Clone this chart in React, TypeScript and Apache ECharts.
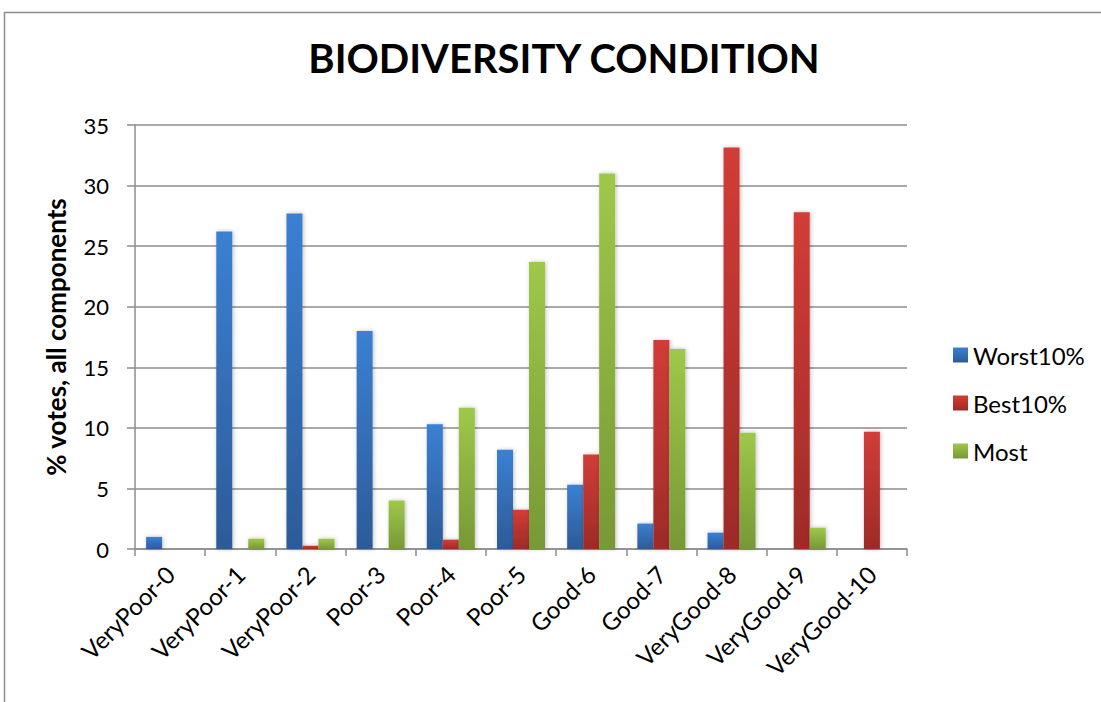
import React, { useEffect, useRef } from "react";
import * as echarts from "echarts";

const categories = [
  "VeryPoor-0", "VeryPoor-1", "VeryPoor-2", "Poor-3", "Poor-4", "Poor-5",
  "Good-6", "Good-7", "VeryGood-8", "VeryGood-9", "VeryGood-10",
];
const worst10 = [1.0, 26.2, 27.7, 18.0, 10.3, 8.2, 5.3, 2.1, 1.35, 0, 0];
const best10 = [0, 0, 0.27, 0, 0.77, 3.24, 7.8, 17.25, 33.15, 27.8, 9.67];
const most = [0, 0.85, 0.85, 4.0, 11.65, 23.7, 31.0, 16.5, 9.6, 1.76, 0];
const yTicks = { min: 0, max: 35, interval: 5 };

const FONT = "Lato, 'Open Sans', sans-serif";

const grad = (top: string, bottom: string) =>
  new echarts.graphic.LinearGradient(0, 0, 0, 1, [
    { offset: 0, color: top },
    { offset: 1, color: bottom },
  ]);

export default function App() {
  const ref = useRef<HTMLDivElement>(null);
  useEffect(() => {
    if (!ref.current) return;
    const chart = echarts.init(ref.current, null, { renderer: "svg" });
    const barBase = {
      type: "bar" as const,
      barWidth: 16,
      barGap: "0%",
      itemStyle: { shadowBlur: 4, shadowColor: "rgba(0,0,0,0.25)", shadowOffsetX: 1, shadowOffsetY: 0 },
    };
    chart.setOption({
      animation: false,
      backgroundColor: "#ffffff",
      graphic: [
        {
          type: "rect",
          shape: { x: 4.5, y: 12.5, width: 1200, height: 800 },
          style: { fill: "none", stroke: "#8c8c8c", lineWidth: 1.5 },
          silent: true,
        },
      ],
      title: {
        text: "BIODIVERSITY CONDITION",
        left: 559,
        textAlign: "center",
        top: 33,
        textStyle: { fontFamily: FONT, fontWeight: "bold", fontSize: 40, color: "#000" },
      },
      legend: {
        orient: "vertical",
        left: 948,
        top: 338,
        itemWidth: 15,
        itemHeight: 15,
        itemGap: 24,
        icon: "rect",
        textStyle: { fontFamily: FONT, fontSize: 24, color: "#000" },
        data: ["Worst10%", "Best10%", "Most"],
      },
      grid: { left: 135, right: 194, top: 125, bottom: 153, containLabel: false },
      xAxis: {
        type: "category",
        data: categories,
        axisLine: { lineStyle: { color: "#8c8c8c", width: 1.5 } },
        axisTick: { show: true, length: 7, lineStyle: { color: "#8c8c8c", width: 1.5 } },
        axisLabel: {
          rotate: 45,
          interval: 0,
          margin: 21,
          fontFamily: FONT,
          fontSize: 24,
          color: "#000",
        },
      },
      yAxis: {
        type: "value",
        min: yTicks.min,
        max: yTicks.max,
        interval: yTicks.interval,
        name: "% votes, all components",
        nameLocation: "middle",
        nameGap: 66,
        nameRotate: 90,
        nameTextStyle: { fontFamily: FONT, fontWeight: "bold", fontSize: 26, color: "#000" },
        axisLine: { show: true, lineStyle: { color: "#8c8c8c", width: 1.5 } },
        axisTick: { show: true, length: 8, lineStyle: { color: "#8c8c8c", width: 1.5 } },
        axisLabel: { fontFamily: FONT, fontSize: 22, color: "#000", margin: 26 },
        splitLine: { lineStyle: { color: "#8c8c8c", width: 1.5 } },
      },
      series: [
        { ...barBase, name: "Worst10%", data: worst10, color: "#3a7dcc", itemStyle: { ...barBase.itemStyle, color: grad("#3b80d2", "#2c5b98") } },
        { ...barBase, name: "Best10%", data: best10, color: "#c93a36", itemStyle: { ...barBase.itemStyle, color: grad("#d23c37", "#9d2b28") } },
        { ...barBase, name: "Most", data: most, color: "#8db444", itemStyle: { ...barBase.itemStyle, color: grad("#9ec84a", "#779836") } },
      ],
    });
    return () => chart.dispose();
  }, []);
  return (
    <div
      ref={ref}
      style={{ position: "fixed", left: 0, top: 0, width: 1101, height: 702 }}
    />
  );
}
